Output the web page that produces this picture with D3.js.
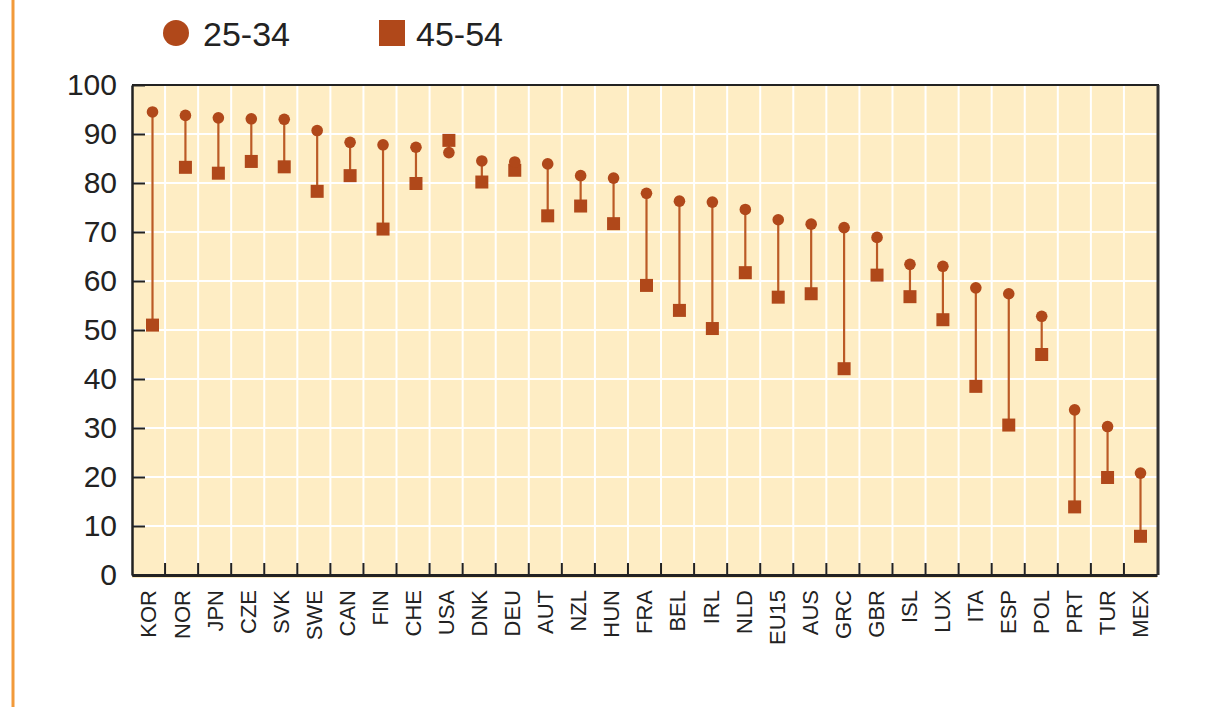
<!DOCTYPE html>
<html>
<head>
<meta charset="utf-8">
<script src="https://cdn.jsdelivr.net/npm/d3@7"></script>
<style>
body { margin:0; background:#fff; }
svg { display:block; font-family:"Liberation Sans", Arial, sans-serif; }
</style>
</head>
<body>
<svg id="chart"></svg>
<script>
// ---------- data ----------
var countries = ["KOR","NOR","JPN","CZE","SVK","SWE","CAN","FIN","CHE","USA","DNK","DEU","AUT","NZL","HUN","FRA","BEL","IRL","NLD","EU15","AUS","GRC","GBR","ISL","LUX","ITA","ESP","POL","PRT","TUR","MEX"];
var young = [94.5,93.8,93.3,93.1,93.0,90.7,88.3,87.8,87.3,86.2,84.5,84.3,83.9,81.5,81.0,77.9,76.3,76.1,74.6,72.5,71.6,70.9,68.9,63.4,63.0,58.6,57.4,52.8,33.7,30.3,20.8];
var older = [51.0,83.2,82.0,84.4,83.3,78.3,81.5,70.6,79.9,88.7,80.2,82.6,73.3,75.3,71.7,59.1,54.0,50.3,61.7,56.7,57.4,42.1,61.2,56.8,52.1,38.5,30.6,45.0,13.9,19.9,7.9];
var yTicks = [0,10,20,30,40,50,60,70,80,90,100];
var legendLabels = ["25-34","45-54"];

var color = "#b0481a";
var lineColor = "#bb5a26";

var screen = {width:1214, height:707};
var margins = {left:132, right:57, top:85, bottom:132};
var graph = {
	width: screen.width - margins.left - margins.right,
	height: screen.height - margins.top - margins.bottom
};

var svg = d3.select("#chart")
	.attr("width", screen.width)
	.attr("height", screen.height);

// orange side rule
svg.append("line")
	.attr("x1", 13).attr("x2", 13)
	.attr("y1", 0).attr("y2", screen.height)
	.attr("stroke", "#f29a3a")
	.attr("stroke-width", 3);

var xScale = d3.scaleBand()
	.domain(countries)
	.range([0, graph.width]);
// markers sit a touch right of the band centres in the original
var xMark = d3.scalePoint()
	.domain(countries)
	.range([20.5, graph.width - 16.5]);
var yScale = d3.scaleLinear()
	.domain([0,100])
	.range([graph.height, 0]);

var target = svg.append("g")
	.attr("transform", "translate(" + margins.left + "," + margins.top + ")");

// background
target.append("rect")
	.attr("x", 0).attr("y", 0)
	.attr("width", graph.width).attr("height", graph.height + 3)
	.attr("fill", "#feedc4");

// horizontal grid
target.selectAll(".hgrid")
	.data(yTicks.slice(1, -1))
	.enter()
	.append("line")
	.attr("x1", 0).attr("x2", graph.width)
	.attr("y1", function(d){ return yScale(d); })
	.attr("y2", function(d){ return yScale(d); })
	.attr("stroke", "#fff")
	.attr("stroke-width", 2);

// vertical grid at band boundaries
target.selectAll(".vgrid")
	.data(countries.slice(1))
	.enter()
	.append("line")
	.attr("x1", function(d){ return xScale(d); })
	.attr("x2", function(d){ return xScale(d); })
	.attr("y1", 0).attr("y2", graph.height)
	.attr("stroke", "#fff")
	.attr("stroke-width", 2);

// frame: top and right
target.append("line")
	.attr("x1", 0).attr("x2", graph.width + 2)
	.attr("y1", 0).attr("y2", 0)
	.attr("stroke", "#222").attr("stroke-width", 2);
target.append("line")
	.attr("x1", graph.width + 1).attr("x2", graph.width + 1)
	.attr("y1", 0).attr("y2", graph.height)
	.attr("stroke", "#333").attr("stroke-width", 3);

// x ticks (inward, at boundaries)
target.selectAll(".xtick")
	.data(countries.slice(1))
	.enter()
	.append("line")
	.attr("x1", function(d){ return xScale(d); })
	.attr("x2", function(d){ return xScale(d); })
	.attr("y1", graph.height - 12).attr("y2", graph.height)
	.attr("stroke", "#222").attr("stroke-width", 2);

// y axis
var yAxis = d3.axisLeft(yScale)
	.tickValues(yTicks)
	.tickSizeInner(-13)
	.tickSizeOuter(0)
	.tickPadding(15);
var yG = target.append("g").call(yAxis);
yG.select(".domain").attr("stroke", "#222").attr("stroke-width", 2.5);
yG.selectAll(".tick line").attr("stroke", "#222").attr("stroke-width", 2);
yG.selectAll(".tick text")
	.attr("font-size", 30)
	.attr("fill", "#222")
	.attr("font-family", "Liberation Sans, Arial, sans-serif");

// x axis line + labels
var xAxis = d3.axisBottom(xScale).tickSize(0).tickPadding(0);
var xG = target.append("g")
	.attr("transform", "translate(0," + graph.height + ")")
	.call(xAxis);
xG.select(".domain").attr("stroke", "#222").attr("stroke-width", 3);
xG.selectAll(".tick text")
	.attr("font-size", 22)
	.attr("fill", "#222")
	.attr("font-family", "Liberation Sans, Arial, sans-serif")
	.attr("text-anchor", "end")
	.attr("dy", "0.36em")
	.attr("transform", "translate(0,15) rotate(-90)")
	.attr("x", 0).attr("y", 0);

// stems
var rows = countries.map(function(c, i){ return {c:c, y:young[i], o:older[i]}; });
target.selectAll(".stem")
	.data(rows)
	.enter()
	.append("line")
	.attr("x1", function(d){ return xMark(d.c); })
	.attr("x2", function(d){ return xMark(d.c); })
	.attr("y1", function(d){ return yScale(d.y); })
	.attr("y2", function(d){ return yScale(d.o); })
	.attr("stroke", lineColor)
	.attr("stroke-width", 2.2);

// 45-54 squares
var sq = 13;
target.selectAll(".sq")
	.data(rows)
	.enter()
	.append("rect")
	.attr("x", function(d){ return xMark(d.c) - sq/2; })
	.attr("y", function(d){ return yScale(d.o) - sq/2; })
	.attr("width", sq).attr("height", sq)
	.attr("fill", color);

// 25-34 circles
target.selectAll(".dot")
	.data(rows)
	.enter()
	.append("circle")
	.attr("cx", function(d){ return xMark(d.c); })
	.attr("cy", function(d){ return yScale(d.y); })
	.attr("r", 5.8)
	.attr("fill", color);

// legend
var leg = svg.append("g");
leg.append("circle")
	.attr("cx", 176).attr("cy", 33)
	.attr("r", 13)
	.attr("fill", color);
leg.append("text")
	.attr("x", 203).attr("y", 45.5)
	.attr("font-size", 34).attr("fill", "#222")
	.text(legendLabels[0]);
leg.append("rect")
	.attr("x", 379).attr("y", 20)
	.attr("width", 26).attr("height", 26)
	.attr("fill", color);
leg.append("text")
	.attr("x", 416).attr("y", 45.5)
	.attr("font-size", 34).attr("fill", "#222")
	.text(legendLabels[1]);
</script>
</body>
</html>
